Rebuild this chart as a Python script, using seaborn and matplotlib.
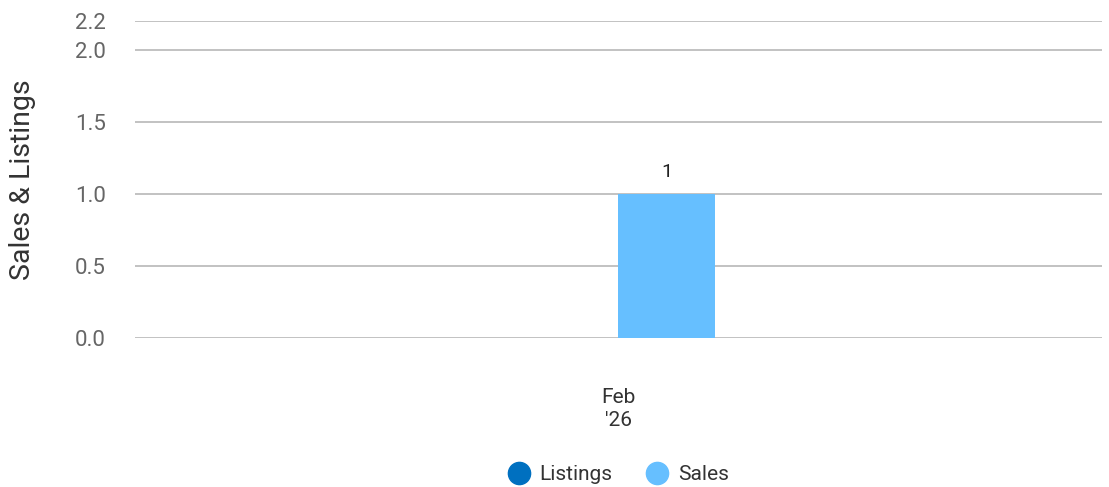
import pandas as pd
import matplotlib
matplotlib.use("Agg")
import matplotlib.pyplot as plt
import seaborn as sns
from matplotlib.lines import Line2D

# 数据
months = ["Feb\n'26"]
listings = [0]
sales = [1]
series_names = ["Listings", "Sales"]
series_colors = ["#0070C0", "#66BFFF"]
y_ticks = [0.0, 0.5, 1.0, 1.5, 2.0, 2.2]

df = pd.DataFrame({"month": months, "Listings": listings, "Sales": sales})
long_df = df.melt(id_vars="month", var_name="series", value_name="value")

sns.set_style("white")
plt.rcParams["font.family"] = ["Roboto", "DejaVu Sans"]

fig = plt.figure(figsize=(11.09, 4.87), dpi=100)
ax = fig.add_axes([0.1217, 0.306, 0.872, 0.651])

sns.barplot(data=long_df, x="month", y="value", hue="series",
            hue_order=series_names, palette=series_colors,
            width=0.2, saturation=1, ax=ax, legend=False, zorder=3,
            linewidth=0)

# 数值标签 (只标非零)
for bars in ax.containers:
    labels = [f"{int(b.get_height())}" if b.get_height() > 0 else "" for b in bars]
    ax.bar_label(bars, labels=labels, padding=9, fontsize=14, color="#222222")

ax.set_xlim(-0.5, 0.5)
ax.set_ylim(0, 2.2)
ax.set_yticks(y_ticks)
ax.set_yticklabels([f"{v:.1f}" for v in y_ticks])
ax.yaxis.grid(True, color="#BDBDBD", linewidth=1.3, zorder=0)
ax.set_axisbelow(True)
for s in ax.spines.values():
    s.set_visible(False)
ax.tick_params(axis="y", length=0, pad=21, labelsize=16, labelcolor="#666666")
ax.tick_params(axis="x", length=0, pad=36, labelsize=15, labelcolor="#333333")
for t in ax.get_xticklabels():
    t.set_linespacing(1.3)
ax.set_xlabel("")
ax.set_ylabel("Sales & Listings", fontsize=20.5, color="#333333", labelpad=28)

handles = [Line2D([0], [0], marker="o", linestyle="", markersize=16,
                  markerfacecolor=c, markeredgecolor=c) for c in series_colors]
fig.legend(handles, series_names, loc="center", bbox_to_anchor=(0.553, 0.025),
           ncol=2, frameon=False, fontsize=15, handletextpad=0.0,
           columnspacing=1.15, labelcolor="#333333")

fig.savefig("out.png", dpi=100)
